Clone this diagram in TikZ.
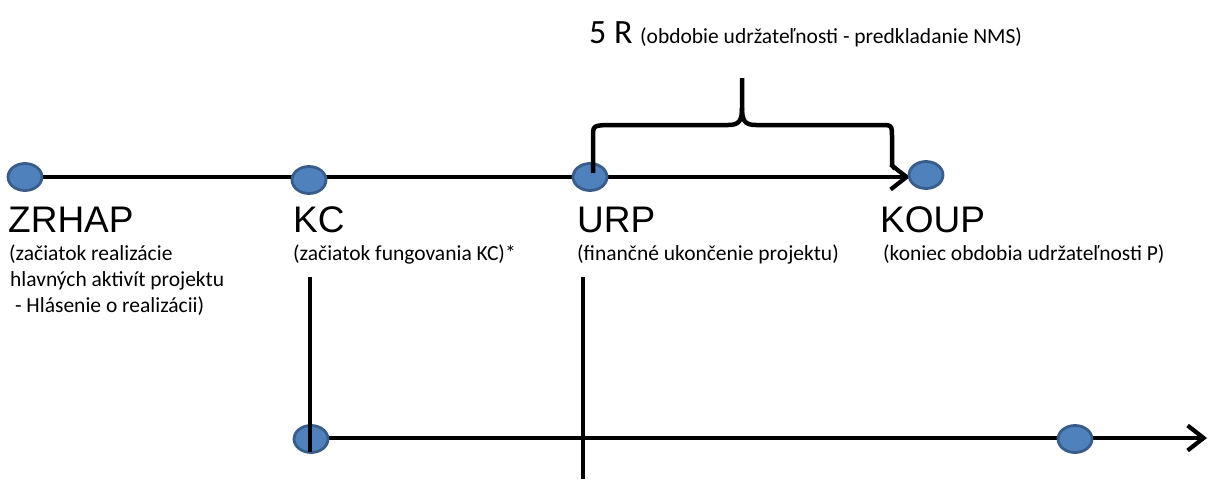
\documentclass[tikz,border=0pt]{standalone}
\usepackage{fontspec}
\setmainfont{Liberation Sans}
\newfontfamily\calfont{Carlito}
\usetikzlibrary{arrows.meta,shapes.geometric}
\definecolor{dotfill}{HTML}{4F81BD}
\definecolor{dotline}{HTML}{385D8A}
\begin{document}
\begin{tikzpicture}[x=1pt,y=-1pt,
  dot/.style={ellipse,fill=dotfill,draw=dotline,line width=2.8pt,minimum width=34pt,minimum height=27pt,inner sep=0pt},
  axis/.style={line width=4.5pt,-{Straight Barb[length=16pt,width=25pt,line width=4.2pt]}},
  vline/.style={line width=3.2pt},
  big/.style={anchor=base west,inner sep=0pt,font=\fontsize{37}{36}\selectfont},
  small/.style={anchor=base west,inner sep=0pt,font=\calfont\fontsize{21.5}{26}\selectfont},
  brace/.style={line width=4.5pt,line join=round}]
\useasboundingbox (0,0) rectangle (1209,479);
% coordinates
\coordinate (topstart) at (25,177);
\coordinate (topend) at (910,177);
\coordinate (botstart) at (311,438);
\coordinate (botend) at (1207,438);
\coordinate (kcvtop) at (310,277);
\coordinate (kcvbot) at (310,452);
\coordinate (urpvtop) at (583,277);
\coordinate (urpvbot) at (583,479);
% lines
\draw[axis] (topstart) -- (topend);
\draw[axis] (botstart) -- (botend);
% dots
\node[dot] (zrhap) at (25,177) {};
\node[dot] (kc) at (309,180) {};
\node[dot] (urp) at (590,177) {};
\node[dot] (koup) at (926,175) {};
\node[dot] (b1) at (311,439) {};
\node[dot] (b2) at (1075,439) {};
% verticals
\draw[vline] (kcvtop) -- (kcvbot);
\draw[vline] (urpvtop) -- (urpvbot);
% brace
\draw[brace] (593,173) -- (593,138) .. controls (593,126) .. (605,125) -- (728,125)
  .. controls (739,125) and (742,121) .. (742,108) -- (742,78);
\draw[brace] (742,108) .. controls (742,121) and (745,125) .. (756,125) -- (880,125)
  .. controls (892,125) .. (892,138) -- (892,165) -- (895,169);
% labels
\node[big] (zrhapl) at (8,232) {ZRHAP};
\node[big] (kcl) at (293,232) {KC};
\node[big] (urpl) at (577,232) {URP};
\node[big] (koupl) at (880,232) {KOUP};
\node[small] (zrhaps1) at (9,260) {(začiatok realizácie};
\node[small] (zrhaps2) at (10,286) {hlavných aktivít projektu};
\node[small] (zrhaps3) at (10,312) {\ - Hlásenie o realizácii)};
\node[small] (kcs) at (293,260) {(začiatok fungovania KC)*};
\node[small] (urps) at (577,260) {(finančné ukončenie projektu)};
\node[small] (koups) at (883,260) {(koniec obdobia udržateľnosti P)};
\node[anchor=base west,inner sep=0pt,font=\calfont\fontsize{34}{34}\selectfont] (fiver) at (589,43) {5 R};
\node[small] (fivers) at (640,43) {(obdobie udržateľnosti - predkladanie NMS)};
\end{tikzpicture}
\end{document}
